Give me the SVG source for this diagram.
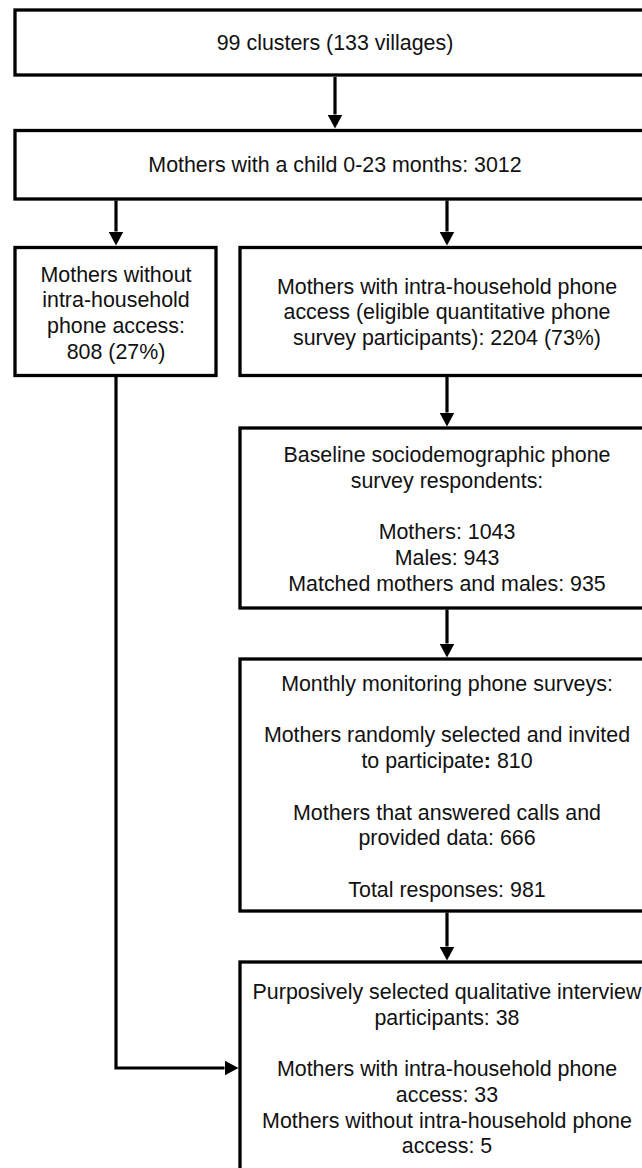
<svg xmlns="http://www.w3.org/2000/svg" width="642" height="1168" viewBox="0 0 642 1168">
<style>
.box{fill:#fff;stroke:#000;stroke-width:3.3}
.t{font-family:"Liberation Sans",Arial,sans-serif;font-size:21.4px;text-anchor:middle;fill:#111}
.c{fill:none;stroke:#000;stroke-width:3.2}
</style>
<defs>
<marker id="ah" markerUnits="userSpaceOnUse" markerWidth="14" markerHeight="15" viewBox="0 0 14 15" refX="0" refY="7.5" orient="auto">
<path d="M0,0 L14,7.5 L0,15 z" fill="#000"/>
</marker>
</defs>
<rect width="642" height="1168" fill="#fff"/>
<g id="connectors">
<line class="c" x1="335" y1="77" x2="335" y2="114.5" marker-end="url(#ah)"/>
<line class="c" x1="116" y1="200.5" x2="116" y2="231.5" marker-end="url(#ah)"/>
<line class="c" x1="447" y1="200.5" x2="447" y2="231.5" marker-end="url(#ah)"/>
<line class="c" x1="447" y1="377" x2="447" y2="412.5" marker-end="url(#ah)"/>
<line class="c" x1="447" y1="609.5" x2="447" y2="643.5" marker-end="url(#ah)"/>
<line class="c" x1="447" y1="912.5" x2="447" y2="946.5" marker-end="url(#ah)"/>
<polyline class="c" points="116,377 116,1068 224.5,1068" marker-end="url(#ah)"/>
</g>
<g id="n1">
<rect class="box" x="15" y="10" width="640" height="65"/>
<text class="t" x="335" y="50">99 clusters (133 villages)</text>
</g>
<g id="n2">
<rect class="box" x="15" y="130.5" width="640" height="68.5"/>
<text class="t" x="335" y="172">Mothers with a child 0-23 months: 3012</text>
</g>
<g id="n3">
<rect class="box" x="15" y="247.5" width="201" height="128"/>
<text class="t" x="116" y="281.5">Mothers without</text>
<text class="t" x="116" y="307.2">intra-household</text>
<text class="t" x="116" y="332.9">phone access:</text>
<text class="t" x="116" y="358.6">808 (27%)</text>
</g>
<g id="n4">
<rect class="box" x="240" y="247.5" width="415" height="128"/>
<text class="t" x="447" y="293.5">Mothers with intra-household phone</text>
<text class="t" x="447" y="319.2">access (eligible quantitative phone</text>
<text class="t" x="447" y="344.9">survey participants): 2204 (73%)</text>
</g>
<g id="n5">
<rect class="box" x="240" y="428" width="415" height="180"/>
<text class="t" x="447" y="462">Baseline sociodemographic phone</text>
<text class="t" x="447" y="487.7">survey respondents:</text>
<text class="t" x="447" y="539.1">Mothers: 1043</text>
<text class="t" x="447" y="564.8">Males: 943</text>
<text class="t" x="447" y="590.5">Matched mothers and males: 935</text>
</g>
<g id="n6">
<rect class="box" x="240" y="659" width="415" height="252"/>
<text class="t" x="447" y="691">Monthly monitoring phone surveys:</text>
<text class="t" x="447" y="742.4">Mothers randomly selected and invited</text>
<text class="t" x="447" y="768.1">to participate<tspan font-weight="bold">:</tspan> 810</text>
<text class="t" x="447" y="819.5">Mothers that answered calls and</text>
<text class="t" x="447" y="845.2">provided data: 666</text>
<text class="t" x="447" y="896.6">Total responses: 981</text>
</g>
<g id="n7">
<rect class="box" x="240" y="962" width="415" height="240"/>
<text class="t" x="447" y="999">Purposively selected qualitative interview</text>
<text class="t" x="447" y="1024.7">participants: 38</text>
<text class="t" x="447" y="1076.1">Mothers with intra-household phone</text>
<text class="t" x="447" y="1101.8">access: 33</text>
<text class="t" x="447" y="1127.5">Mothers without intra-household phone</text>
<text class="t" x="447" y="1153.2">access: 5</text>
</g>
</svg>
